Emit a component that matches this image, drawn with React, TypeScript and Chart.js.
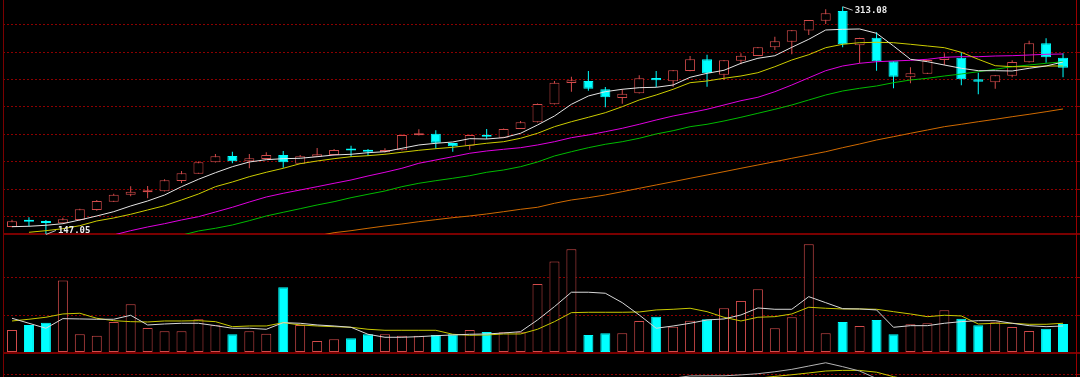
import { useEffect, useRef } from 'react';
import { Chart, registerables } from 'chart.js';

Chart.register(...registerables);

// ---- data ----
const opens = [152.52, 156.5, 155.5, 155.21, 157.62, 164.91, 170.96, 176.06, 177.81, 178.54, 186.05, 191.37, 199.68, 204.27, 200.41, 202.09, 205.01, 198.66, 203.77, 205.01, 208.55, 207.5, 206.97, 208.43, 219.37, 220.53, 213.75, 211.79, 219.8, 217.62, 223.96, 228.84, 241.97, 257.49, 258.95, 252.9, 246.56, 249.98, 261.14, 258.73, 266.24, 274.77, 263.54, 273.75, 277.18, 283.52, 287.6, 295.77, 302.91, 309.98, 284.98, 290.52, 273.31, 261.65, 264.27, 274.26, 275.94, 260.19, 258.0, 262.82, 272.58, 286.43, 275.94];
const closes = [156.67, 156.3, 155.35, 158.13, 165.42, 171.47, 176.06, 178.25, 178.98, 186.56, 191.66, 199.68, 204.06, 200.41, 202.6, 205.01, 199.68, 204.06, 205.52, 208.65, 208.3, 207.3, 208.65, 219.59, 220.53, 213.97, 211.35, 219.59, 218.35, 223.96, 228.84, 242.18, 257.71, 259.46, 253.34, 247.07, 249.69, 260.92, 259.46, 266.75, 274.77, 264.56, 274.04, 277.4, 283.52, 287.89, 295.91, 303.42, 308.3, 285.71, 290.3, 273.31, 262.09, 264.56, 274.26, 276.23, 260.19, 258.44, 263.11, 272.8, 286.43, 276.23, 268.65];
const highs = [157.84, 159.59, 157.62, 159.3, 165.85, 172.2, 176.79, 182.18, 182.4, 187.29, 193.34, 200.3, 205.73, 207.41, 205.73, 206.97, 207.92, 205.01, 210.11, 209.38, 211.79, 209.38, 209.89, 220.0, 223.74, 223.01, 213.8, 219.7, 223.96, 224.3, 229.79, 242.5, 258.95, 262.09, 266.24, 254.58, 253.12, 263.11, 266.24, 267.0, 277.18, 278.12, 274.3, 279.14, 283.7, 291.25, 296.1, 303.5, 311.22, 313.08, 290.5, 294.45, 273.4, 268.94, 274.4, 279.14, 279.87, 265.0, 263.3, 274.04, 288.33, 290.08, 279.14];
const lows = [152.3, 153.25, 147.05, 155.1, 157.11, 164.4, 170.8, 174.9, 173.44, 178.4, 184.59, 191.3, 199.6, 198.95, 195.31, 202.0, 195.75, 198.6, 203.5, 204.9, 203.77, 204.27, 206.8, 208.3, 219.2, 209.6, 207.41, 208.87, 216.67, 217.6, 223.9, 228.7, 241.9, 251.15, 251.88, 239.78, 242.4, 249.8, 254.58, 254.8, 266.1, 254.8, 259.68, 271.13, 277.1, 281.55, 278.42, 292.49, 300.5, 283.52, 271.85, 266.46, 253.63, 257.27, 264.1, 270.4, 255.82, 249.25, 253.34, 261.65, 272.5, 272.29, 261.65];
const volumes = [61.3, 74.7, 80.8, 192.8, 49.9, 46.1, 82.7, 129.9, 66.7, 57.9, 57.9, 89.9, 73.9, 49.9, 57.9, 51.5, 175.2, 74.7, 32.0, 36.5, 39.2, 49.9, 49.9, 46.1, 46.1, 48.0, 49.9, 61.3, 56.0, 55.2, 55.2, 184.0, 243.5, 276.6, 48.0, 52.5, 52.5, 85.3, 96.8, 70.1, 86.1, 89.9, 119.2, 138.7, 169.9, 65.9, 95.2, 289.9, 52.5, 82.7, 72.0, 88.0, 49.9, 76.5, 79.2, 113.9, 91.5, 73.9, 81.9, 69.3, 58.7, 64.8, 77.3];

const ma5 = [152.74, 153.03, 153.76, 154.92, 157.62, 160.54, 163.67, 167.83, 171.47, 175.85, 181.9, 187.29, 192.1, 196.48, 199.9, 201.58, 202.31, 202.6, 203.76, 205.0, 205.52, 206.68, 207.41, 209.89, 212.3, 213.53, 214.48, 216.89, 216.67, 217.62, 220.82, 226.88, 233.44, 241.97, 248.02, 251.15, 252.9, 254.07, 254.36, 256.04, 261.65, 264.56, 266.75, 271.85, 275.5, 277.39, 283.52, 289.35, 296.13, 296.64, 296.86, 293.72, 284.47, 274.77, 273.02, 270.61, 268.21, 266.46, 266.46, 266.24, 268.21, 269.89, 272.8];
const ma10 = [null, 148.65, 149.82, 151.28, 153.46, 156.89, 159.08, 161.78, 164.91, 168.04, 172.2, 176.57, 181.9, 185.32, 189.19, 192.4, 195.31, 198.66, 200.63, 202.31, 203.76, 204.49, 205.52, 206.98, 208.43, 209.6, 210.62, 212.08, 213.54, 214.7, 217.18, 220.82, 225.64, 229.28, 232.49, 235.84, 240.22, 245.1, 248.75, 252.9, 257.71, 258.95, 260.92, 262.6, 265.0, 269.38, 274.26, 278.12, 283.23, 285.71, 286.87, 287.16, 286.87, 285.71, 284.47, 283.23, 279.87, 274.77, 270.1, 269.38, 269.38, 269.89, 269.89];
const ma20 = [null, null, null, null, null, null, 146.7, 149.82, 152.52, 154.92, 157.62, 160.03, 163.45, 166.88, 170.74, 174.39, 177.08, 179.49, 181.9, 184.37, 186.78, 189.7, 192.39, 195.31, 198.95, 201.36, 203.76, 206.25, 207.92, 209.16, 210.33, 212.3, 214.7, 217.62, 219.59, 221.99, 224.47, 227.39, 230.52, 233.44, 235.84, 238.32, 241.46, 244.59, 247.07, 251.15, 256.04, 261.28, 266.46, 269.89, 271.85, 273.02, 273.53, 274.04, 274.77, 276.23, 276.67, 276.67, 277.18, 277.39, 277.9, 278.42, 278.63];
const ma60 = [null, null, null, null, null, null, null, null, null, null, 146.5, 149.6, 151.57, 153.98, 157.11, 160.54, 163.23, 165.86, 168.56, 170.96, 173.88, 176.35, 178.76, 181.9, 184.37, 186.27, 188.02, 189.91, 192.39, 194.07, 196.48, 199.9, 204.28, 207.41, 210.33, 212.8, 214.7, 217.18, 220.31, 222.72, 225.64, 227.39, 229.79, 232.49, 235.4, 238.32, 241.46, 245.1, 248.75, 251.66, 253.63, 255.31, 257.71, 259.68, 260.92, 262.6, 264.05, 265.73, 267.48, 269.38, 270.62, 271.85, 273.02];
const ma120 = [null, null, null, null, null, null, null, null, null, null, null, null, null, null, null, null, null, null, 145.96, 148.36, 149.82, 151.57, 153.25, 154.7, 156.38, 157.84, 159.3, 160.54, 162.0, 163.67, 165.42, 166.88, 169.79, 172.2, 173.88, 175.85, 178.25, 180.73, 183.14, 185.54, 188.02, 190.43, 192.83, 195.31, 197.72, 200.12, 202.6, 205.0, 207.41, 210.33, 213.02, 215.94, 218.35, 220.82, 223.23, 225.64, 227.39, 229.28, 231.03, 232.92, 234.68, 236.57, 238.54];

const volMa5 = [92.5, 79.2, 65.9, 91.5, 90.7, 89.9, 89.9, 100.5, 74.7, 77.3, 79.2, 79.2, 72.8, 65.9, 65.9, 63.2, 80.8, 79.2, 74.7, 72.0, 68.5, 49.9, 41.9, 41.9, 43.5, 46.1, 48.0, 49.9, 50.7, 53.3, 56.8, 88.0, 123.5, 161.9, 161.9, 159.2, 134.1, 101.3, 65.9, 72.0, 79.2, 88.0, 90.7, 101.3, 120.0, 116.5, 116.5, 150.1, 134.1, 118.1, 117.3, 114.7, 68.5, 72.8, 72.8, 79.2, 83.5, 86.1, 86.1, 79.2, 72.8, 70.1, 72.0];
const volMa10 = [85.3, 89.9, 95.2, 104.0, 105.9, 92.5, 86.1, 83.5, 82.7, 85.3, 85.3, 86.1, 83.5, 70.1, 72.0, 72.0, 80.8, 74.7, 72.0, 70.1, 68.5, 63.2, 60.5, 60.5, 60.5, 60.5, 49.9, 47.2, 48.0, 50.7, 50.7, 63.2, 83.5, 107.5, 108.5, 108.5, 108.5, 109.3, 114.7, 116.5, 119.2, 110.1, 95.2, 85.3, 95.2, 96.8, 104.0, 121.9, 119.2, 117.3, 117.3, 116.5, 110.1, 104.0, 96.8, 100.5, 98.7, 77.3, 79.2, 79.2, 76.5, 76.5, 79.2];

// lower indicator panel (only its top edge is visible)
const indFast = [null, null, null, null, null, null, null, null, null, null, null, null, null, null, null, null, null, null, null, null, null, null, null, null, null, null, null, null, null, null, null, null, null, null, null, null, null, null, null, -1.4, -0.65, -0.6, -0.6, -0.3, 0.1, 0.75, 1.55, 2.65, 3.75, 2.45, 1.0, -1.5, null, null, null, null, null, null, null, null, null, null, null];
const indSlow = [null, null, null, null, null, null, null, null, null, null, null, null, null, null, null, null, null, null, null, null, null, null, null, null, null, null, null, null, null, null, null, null, null, null, null, null, null, null, null, null, null, null, null, null, -1.4, -0.8, -0.25, 0.35, 1.0, 1.2, 1.2, 0.6, -0.9, -2.0, null, null, null, null, null, null, null, null, null];

const priceTicks = [160, 180, 200, 220, 240, 260, 280, 300];
const volumeTicks = [0, 100, 200];
const indicatorTicks = [0];

// ---- axis ranges / styles ----
const PRICE_MIN = 147.4;
const PRICE_MAX = 318.0;
const VOL_MAX = 317;
const IND_MIN = -1;
const IND_MAX = 7;
const X_MIN = -0.531;
const X_MAX = 62.765;

const UP = '#d24b4b';
const DOWN = '#00ffff';
const GRID = '#8c0000';
const SEP = '#7a0000';
const FRAME = '#9a0000';

const extremaPlugin = {
  id: 'extremaLabels',
  afterDatasetsDraw(chart: any) {
    const { ctx } = chart;
    const xs = chart.scales.x;
    const ys = chart.scales.y;
    const hi = Math.max(...highs);
    const lo = Math.min(...lows);
    const hiI = highs.indexOf(hi);
    const loI = lows.indexOf(lo);
    ctx.save();
    ctx.font = 'bold 9px "DejaVu Sans Mono", monospace';
    ctx.textBaseline = 'middle';
    ctx.textAlign = 'left';
    ctx.strokeStyle = '#bdbdbd';
    ctx.fillStyle = '#ececec';
    ctx.lineWidth = 1;
    const hx = xs.getPixelForValue(hiI);
    const hy = ys.getPixelForValue(hi);
    ctx.beginPath();
    ctx.moveTo(hx, hy);
    ctx.lineTo(hx + 10, hy + 3.5);
    ctx.stroke();
    ctx.fillText(hi.toFixed(2), hx + 12, hy + 4);
    const lx = xs.getPixelForValue(loI);
    const ly = ys.getPixelForValue(lo);
    ctx.beginPath();
    ctx.moveTo(lx, ly);
    ctx.lineTo(lx + 10, ly - 4);
    ctx.stroke();
    ctx.fillText(lo.toFixed(2), lx + 12, ly - 4);
    ctx.restore();
  },
};

function lineSet(arr: (number | null)[], color: string, axis: string) {
  return {
    type: 'line',
    data: arr.map((v, i) => (v == null ? null : { x: i, y: v })).filter((p) => p !== null),
    borderColor: color,
    borderWidth: 1,
    pointRadius: 0,
    tension: 0,
    fill: false,
    yAxisID: axis,
    order: 0,
  };
}

function panelScale(weight: number, min: number, max: number, tickValues: number[], solidIndex: number, stackWeight: number) {
  return {
    type: 'linear',
    position: 'right',
    stack: 'panels',
    stackWeight,
    weight,
    min,
    max,
    afterBuildTicks: (s: any) => {
      s.ticks = tickValues.map((v) => ({ value: v }));
    },
    ticks: { display: false },
    grid: {
      display: true,
      drawOnChartArea: true,
      drawTicks: true,
      tickLength: 4,
      color: (c: any) => (c.index === solidIndex ? SEP : GRID),
      lineWidth: (c: any) => (c.index === solidIndex ? 2 : 1),
    },
    border: {
      display: true,
      color: FRAME,
      width: 1,
      dash: (c: any) => (c.index === solidIndex ? [] : [2, 2]),
    },
  };
}

export default function App() {
  const ref = useRef<HTMLCanvasElement | null>(null);

  useEffect(() => {
    document.body.style.margin = '0';
    document.body.style.background = '#000';
    const canvas = ref.current;
    if (!canvas) return;
    const idx = opens.map((_, i) => i);
    const isUp = idx.map((i) => closes[i] >= opens[i]);

    const datasets: any[] = [
      lineSet(ma5, '#e4e4e4', 'y'),
      lineSet(ma10, '#cccc00', 'y'),
      lineSet(ma20, '#e000e0', 'y'),
      lineSet(ma60, '#00bb00', 'y'),
      lineSet(ma120, '#d06a00', 'y'),
      {
        type: 'bar',
        data: idx.map((i) => ({ x: i, y: [opens[i], closes[i]] })),
        backgroundColor: idx.map((i) => (isUp[i] ? '#000000' : DOWN)),
        borderColor: idx.map((i) => (isUp[i] ? UP : DOWN)),
        borderWidth: 1,
        borderSkipped: false,
        barThickness: 10,
        maxBarThickness: 10,
        minBarLength: 2,
        grouped: false,
        inflateAmount: 0,
        yAxisID: 'y',
        order: 2,
      },
      {
        type: 'bar',
        data: idx.map((i) => ({ x: i, y: [lows[i], highs[i]] })),
        backgroundColor: idx.map((i) => (isUp[i] ? UP : DOWN)),
        borderWidth: 0,
        barThickness: 1,
        maxBarThickness: 1,
        grouped: false,
        inflateAmount: 0,
        yAxisID: 'y',
        order: 3,
      },
      {
        type: 'bar',
        data: idx.map((i) => ({ x: i, y: volumes[i] })),
        backgroundColor: idx.map((i) => (isUp[i] ? '#000000' : DOWN)),
        borderColor: idx.map((i) => (isUp[i] ? UP : DOWN)),
        borderWidth: 1,
        borderSkipped: false,
        barThickness: 10,
        maxBarThickness: 10,
        grouped: false,
        inflateAmount: 0,
        yAxisID: 'yv',
        order: 2,
      },
      lineSet(volMa5, '#d8d8d8', 'yv'),
      lineSet(volMa10, '#c8c800', 'yv'),
      lineSet(indFast, '#b4b4b4', 'yi'),
      lineSet(indSlow, '#c8c800', 'yi'),
    ];

    const chart = new Chart(canvas, {
      type: 'bar',
      data: { datasets },
      options: {
        animation: false,
        responsive: false,
        devicePixelRatio: 1,
        events: [],
        layout: { padding: { left: 3, right: 0, top: 0, bottom: 0 }, autoPadding: false },
        plugins: { legend: { display: false }, tooltip: { enabled: false }, title: { display: false } },
        scales: {
          x: {
            type: 'linear',
            min: X_MIN,
            max: X_MAX,
            offset: false,
            bounds: 'data',
            grace: 0,
            display: false,
            grid: { offset: false },
            ticks: { includeBounds: true },
          },
          y: panelScale(0, PRICE_MIN, PRICE_MAX, [PRICE_MIN, ...priceTicks], 0, 234),
          yv: panelScale(1, 0, VOL_MAX, volumeTicks, 0, 119),
          yi: panelScale(2, IND_MIN, IND_MAX, indicatorTicks, -1, 24),
          yl: {
            type: 'linear',
            position: 'left',
            display: true,
            grid: { display: false, drawTicks: false, tickLength: 0 },
            ticks: { display: false },
            border: { display: true, color: SEP, width: 1 },
          },
        },
      } as any,
      plugins: [extremaPlugin],
    } as any);

    return () => chart.destroy();
  }, []);

  return (
    <div style={{ position: 'fixed', left: 0, top: 0, width: 1080, height: 377, background: '#000', overflow: 'hidden' }}>
      <canvas ref={ref} width={1080} height={377} style={{ display: 'block', background: '#000' }} />
    </div>
  );
}
